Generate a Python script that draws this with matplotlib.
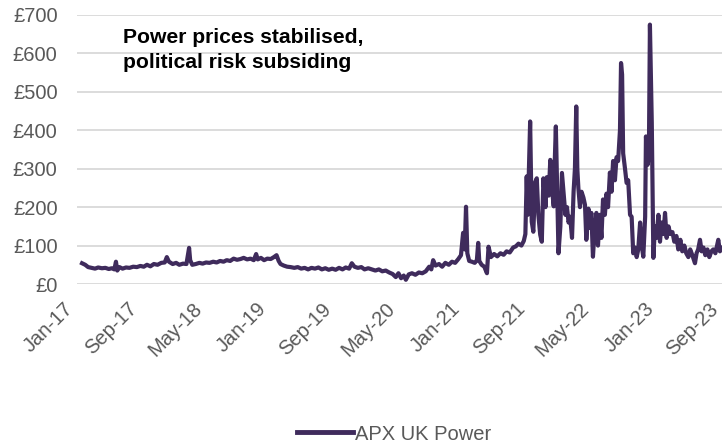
import numpy as np
import pandas as pd
import matplotlib
matplotlib.use("Agg")
import matplotlib.pyplot as plt
import matplotlib.dates as mdates

plt.rcParams['font.family'] = ['Liberation Sans', 'DejaVu Sans']

# APX UK day-ahead power price (GBP/MWh)
dates = [
    "2017-01-20", "2017-02-01", "2017-02-12", "2017-02-25", "2017-03-10", "2017-03-22", "2017-04-05", "2017-04-18",
    "2017-05-01", "2017-05-12", "2017-05-22", "2017-05-28", "2017-06-02", "2017-06-10", "2017-06-22", "2017-07-05",
    "2017-07-18", "2017-08-01", "2017-08-15", "2017-08-28", "2017-09-10", "2017-09-22", "2017-10-05", "2017-10-18",
    "2017-11-01", "2017-11-15", "2017-11-28", "2017-12-06", "2017-12-14", "2017-12-28", "2018-01-10", "2018-01-22",
    "2018-02-05", "2018-02-18", "2018-02-28", "2018-03-04", "2018-03-12", "2018-03-25", "2018-04-08", "2018-04-20",
    "2018-05-03", "2018-05-16", "2018-05-30", "2018-06-12", "2018-06-25", "2018-07-08", "2018-07-20", "2018-08-02",
    "2018-08-15", "2018-08-28", "2018-09-10", "2018-09-22", "2018-10-05", "2018-10-18", "2018-10-30", "2018-11-08",
    "2018-11-14", "2018-11-26", "2018-12-08", "2018-12-20", "2019-01-02", "2019-01-14", "2019-01-24", "2019-02-01",
    "2019-02-08", "2019-02-20", "2019-03-05", "2019-03-18", "2019-04-01", "2019-04-14", "2019-04-27", "2019-05-10",
    "2019-05-23", "2019-06-05", "2019-06-18", "2019-07-01", "2019-07-14", "2019-07-27", "2019-08-09", "2019-08-22",
    "2019-09-04", "2019-09-17", "2019-09-30", "2019-10-12", "2019-10-25", "2019-11-04", "2019-11-14", "2019-11-27",
    "2019-12-10", "2019-12-22", "2020-01-05", "2020-01-18", "2020-02-01", "2020-02-14", "2020-02-27", "2020-03-11",
    "2020-03-24", "2020-04-06", "2020-04-18", "2020-04-28", "2020-05-08", "2020-05-18", "2020-05-26", "2020-06-06",
    "2020-06-18", "2020-07-01", "2020-07-14", "2020-07-27", "2020-08-09", "2020-08-22", "2020-08-30", "2020-09-06",
    "2020-09-15", "2020-09-28", "2020-10-10", "2020-10-22", "2020-11-04", "2020-11-16", "2020-11-28", "2020-12-10",
    "2020-12-20", "2020-12-28", "2021-01-03", "2021-01-08", "2021-01-13", "2021-01-20", "2021-01-30", "2021-02-10",
    "2021-02-18", "2021-02-23", "2021-02-27", "2021-03-08", "2021-03-18", "2021-03-28", "2021-04-03", "2021-04-12",
    "2021-04-24", "2021-05-06", "2021-05-18", "2021-05-30", "2021-06-10", "2021-06-22", "2021-07-05", "2021-07-15",
    "2021-07-25", "2021-08-05", "2021-08-14", "2021-08-20", "2021-08-25", "2021-08-29", "2021-09-07", "2021-09-13",
    "2021-09-19", "2021-09-26", "2021-10-02", "2021-10-08", "2021-10-15", "2021-10-21", "2021-10-27", "2021-11-04",
    "2021-11-09", "2021-11-16", "2021-11-22", "2021-11-28", "2021-12-05", "2021-12-08", "2021-12-13", "2021-12-18",
    "2021-12-23", "2021-12-30", "2022-01-05", "2022-01-11", "2022-01-18", "2022-01-24", "2022-01-30", "2022-02-05",
    "2022-02-12", "2022-02-18", "2022-02-23", "2022-02-28", "2022-03-04", "2022-03-08", "2022-03-14", "2022-03-20",
    "2022-03-27", "2022-04-02", "2022-04-07", "2022-04-15", "2022-04-21", "2022-04-26", "2022-05-02", "2022-05-09",
    "2022-05-15", "2022-05-21", "2022-05-28", "2022-06-03", "2022-06-09", "2022-06-16", "2022-06-22", "2022-06-28",
    "2022-07-05", "2022-07-11", "2022-07-17", "2022-07-24", "2022-07-30", "2022-08-05", "2022-08-12", "2022-08-16",
    "2022-08-20", "2022-08-24", "2022-08-31", "2022-09-06", "2022-09-12", "2022-09-19", "2022-09-25", "2022-10-01",
    "2022-10-08", "2022-10-14", "2022-10-20", "2022-10-27", "2022-11-02", "2022-11-08", "2022-11-15", "2022-11-18",
    "2022-11-24", "2022-11-29", "2022-12-03", "2022-12-10", "2022-12-16", "2022-12-22", "2022-12-28", "2023-01-04",
    "2023-01-10", "2023-01-16", "2023-01-23", "2023-01-29", "2023-02-04", "2023-02-11", "2023-02-18", "2023-02-26",
    "2023-03-05", "2023-03-13", "2023-03-20", "2023-03-28", "2023-04-04", "2023-04-12", "2023-04-19", "2023-04-27",
    "2023-05-04", "2023-05-12", "2023-05-22", "2023-05-28", "2023-06-03", "2023-06-10", "2023-06-16", "2023-06-23",
    "2023-06-30", "2023-07-08", "2023-07-15", "2023-07-23", "2023-07-30", "2023-08-07", "2023-08-18", "2023-08-24",
    "2023-08-30", "2023-09-01",
]
prices = [
    54, 50, 44, 42, 40, 43, 41, 42,
    39, 41, 38, 58, 35, 44, 40, 43,
    42, 45, 44, 47, 45, 50, 46, 52,
    50, 55, 56, 70, 58, 52, 55, 50,
    53, 52, 94, 62, 50, 52, 55, 53,
    56, 55, 58, 56, 60, 58, 62, 60,
    66, 63, 65, 68, 64, 66, 62, 78,
    64, 68, 62, 66, 65, 70, 75, 60,
    52, 48, 45, 44, 42, 44, 40, 42,
    38, 42, 40, 43, 38, 41, 37, 40,
    37, 42, 38, 43, 40, 54, 45, 42,
    44, 38, 41, 38, 35, 38, 33, 35,
    30, 26, 18, 28, 15, 22, 11, 25,
    28, 24, 30, 28, 33, 45, 38, 62,
    48, 52, 45, 55, 50, 58, 55, 65,
    75, 133, 90, 201, 80, 60, 58, 55,
    62, 107, 60, 50, 45, 28, 97, 70,
    78, 72, 80, 76, 85, 82, 95, 98,
    105, 100, 112, 130, 280, 180, 423, 162,
    136, 265, 275, 180, 128, 110, 275, 200,
    278, 230, 323, 250, 202, 300, 410, 250,
    80, 150, 289, 240, 180, 200, 160, 175,
    120, 241, 300, 462, 300, 250, 200, 240,
    225, 206, 115, 196, 146, 185, 71, 150,
    185, 100, 180, 120, 220, 180, 235, 200,
    290, 240, 320, 270, 330, 320, 400, 575,
    545, 340, 300, 263, 270, 180, 175, 80,
    95, 70, 90, 160, 100, 71, 175, 384,
    310, 330, 675, 420, 68, 150, 120, 180,
    110, 160, 130, 185, 120, 150, 130, 135,
    110, 125, 90, 115, 85, 100, 80, 70,
    90, 75, 54, 80, 90, 115, 85, 95,
    75, 90, 70, 85, 90, 80, 115, 85,
    95, 89,
]
series_name = "APX UK Power"
note = "Power prices stabilised,\npolitical risk subsiding"
yticks = [0, 100, 200, 300, 400, 500, 600, 700]

x = pd.to_datetime(dates)
tick_dates = pd.date_range("2017-01-01", "2023-09-01", freq="8MS")

fig = plt.figure(figsize=(7.25, 4.46), dpi=100)
ax = fig.add_axes([77 / 725, 1 - 284 / 446, 645 / 725, 269 / 446])

ax.plot(x, prices, color="#3f2b5c", lw=3.0, solid_joinstyle="round", label=series_name)

ax.set_ylim(0, 700)
ax.set_yticks(yticks)
ax.set_yticklabels(["£%d" % v for v in yticks])
ax.set_xlim(pd.Timestamp("2017-01-01"), pd.Timestamp("2023-09-01"))
ax.set_xticks(tick_dates)
ax.xaxis.set_major_formatter(mdates.DateFormatter("%b-%y"))

ax.grid(axis="y", color="#d9d9d9", lw=1.3)
ax.set_axisbelow(True)
for s in ax.spines.values():
    s.set_visible(False)
ax.tick_params(axis="both", length=0, colors="#595959", labelsize=14.5)
ax.tick_params(axis="y", pad=14)
ax.tick_params(axis="x", pad=11)
for lbl in ax.get_xticklabels():
    lbl.set_rotation(45)
    lbl.set_ha("right")

fig.text(123 / 725, 1 - 28 / 446, note, fontsize=15.2, fontweight="bold",
         color="black", va="top", ha="left", linespacing=1.38)

leg = fig.legend(loc="center", bbox_to_anchor=(394 / 725, 1 - 434 / 446), frameon=False,
                 fontsize=14.5, handlelength=2.8, handletextpad=0.1, labelcolor="#595959")
for h in leg.get_lines():
    h.set_linewidth(3.5)

fig.savefig("out.png", dpi=100)
